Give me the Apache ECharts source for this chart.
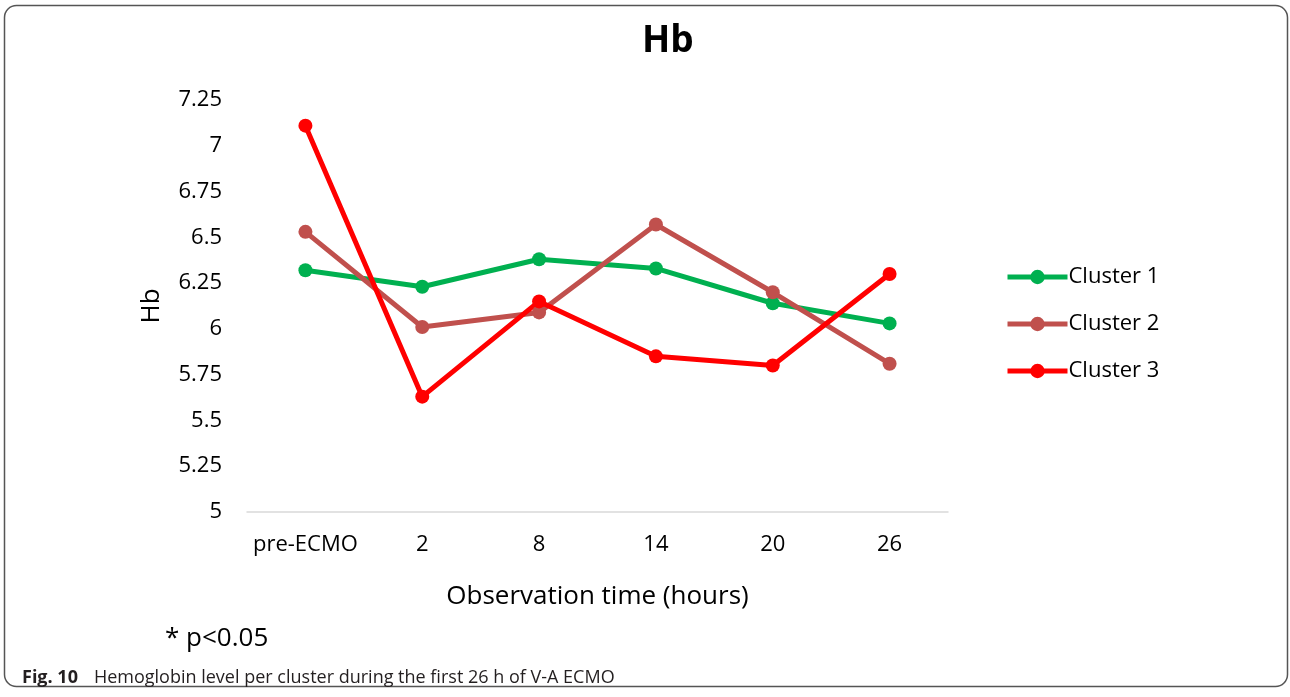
<!DOCTYPE html>
<html>
<head>
<meta charset="utf-8">
<script src="https://cdn.jsdelivr.net/npm/echarts@6/dist/echarts.min.js"></script>
<style>
  html, body { margin: 0; padding: 0; background: #fff; }
  #chart { width: 1290px; height: 697px; }
</style>
</head>
<body>
<div id="chart"></div>
<script>
// Observation time points
const categories = ['pre-ECMO', '2', '8', '14', '20', '26'];

// Mean hemoglobin per cluster
const cluster1 = [6.32, 6.23, 6.38, 6.33, 6.14, 6.03];
const cluster2 = [6.53, 6.01, 6.09, 6.57, 6.20, 5.81];
const cluster3 = [7.11, 5.63, 6.15, 5.85, 5.80, 6.30];

const seriesNames = ['Cluster 1', 'Cluster 2', 'Cluster 3'];
const seriesColors = ['#00B050', '#C0504D', '#FF0000'];

const FONT = '"Open Sans", "Noto Sans", sans-serif';

const chart = echarts.init(document.getElementById('chart'), null, { renderer: 'canvas' });

function lineSeries(name, data, color) {
  return {
    name: name,
    type: 'line',
    data: data,
    symbol: 'circle',
    symbolSize: 14,
    lineStyle: { width: 5, color: color },
    itemStyle: { color: color },
    emphasis: { disabled: true },
    animation: false
  };
}

chart.setOption({
  backgroundColor: '#ffffff',
  textStyle: { fontFamily: FONT },
  title: [
    {
      text: 'Hb',
      left: 637, top: 18,
      textStyle: { fontFamily: FONT, fontSize: 37, fontWeight: 'bold', color: '#000' }
    },
    {
      text: '* p<0.05',
      left: 160, top: 621,
      textStyle: { fontFamily: FONT, fontSize: 26, fontWeight: 'normal', color: '#000' }
    },
    {
      text: '{b|Fig. 10}{r|Hemoglobin level per cluster during the first 26 h of V-A ECMO}',
      left: 17, top: 664,
      textStyle: {
        rich: {
          b: { fontFamily: FONT, fontSize: 18, fontWeight: 'bold', color: '#231f20' },
          r: { fontFamily: FONT, fontSize: 18, fontWeight: 'normal', color: '#231f20', padding: [0, 0, 0, 16] }
        }
      }
    }
  ],
  graphic: [
    {
      type: 'rect',
      shape: { x: 4.5, y: 5.5, width: 1283, height: 681, r: 12 },
      style: { fill: 'none', stroke: '#555555', lineWidth: 1.5 },
      silent: true
    }
  ],
  legend: {
    orient: 'vertical',
    left: 1005, top: 266,
    padding: 0,
    itemWidth: 60, itemHeight: 18, itemGap: 25,
    data: seriesNames,
    lineStyle: { width: 5 },
    textStyle: { fontFamily: FONT, fontSize: 22, color: '#000', padding: [0, 0, 0, -4] }
  },
  grid: { left: 247, right: 342, top: 100, bottom: 185, containLabel: false },
  xAxis: {
    type: 'category',
    data: categories,
    boundaryGap: true,
    name: 'Observation time (hours)',
    nameLocation: 'middle',
    nameGap: 72,
    nameTextStyle: { fontFamily: FONT, fontSize: 26, color: '#000' },
    axisLine: { lineStyle: { color: '#d9d9d9', width: 1.5 } },
    axisTick: { show: false },
    axisLabel: { interval: 0, fontFamily: FONT, fontSize: 22, color: '#000', margin: 22 }
  },
  yAxis: {
    type: 'value',
    min: 5, max: 7.25, interval: 0.25,
    name: 'Hb',
    nameLocation: 'middle',
    nameGap: 82,
    nameRotate: 90,
    nameTextStyle: { fontFamily: FONT, fontSize: 26, color: '#000' },
    axisLine: { show: false },
    axisTick: { show: false },
    splitLine: { show: false },
    axisLabel: { fontFamily: FONT, fontSize: 22, color: '#000', margin: 25 }
  },
  series: [
    lineSeries(seriesNames[0], cluster1, seriesColors[0]),
    lineSeries(seriesNames[1], cluster2, seriesColors[1]),
    lineSeries(seriesNames[2], cluster3, seriesColors[2])
  ]
});
</script>
</body>
</html>
